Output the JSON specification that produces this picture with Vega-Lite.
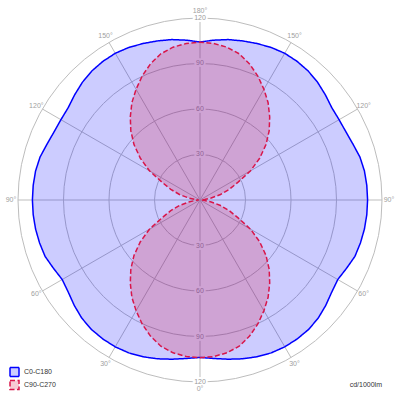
{
  "$schema": "https://vega.github.io/schema/vega-lite/v6.json",
  "width": 400,
  "height": 400,
  "autosize": {"type": "none"},
  "padding": 0,
  "background": "white",
  "config": {"view": {"stroke": null}, "font": "Liberation Sans"},
  "title": {"text": "cd/1000lm", "orient": "bottom", "anchor": "end", "frame": "group", "offset": 0, "dy": -19, "dx": -18, "fontSize": 7, "fontWeight": "normal", "color": "#333333"},
  "datasets": {
    "curves": [
      {"s":"C0-C180","a":0,"v":103.8},{"s":"C0-C180","a":5,"v":104.9},{"s":"C0-C180","a":10,"v":106.6},{"s":"C0-C180","a":15,"v":108.4},{"s":"C0-C180","a":20,"v":110},{"s":"C0-C180","a":25,"v":111.2},{"s":"C0-C180","a":30,"v":111.8},{"s":"C0-C180","a":35,"v":111.8},{"s":"C0-C180","a":40,"v":111.4},{"s":"C0-C180","a":45,"v":110.2},{"s":"C0-C180","a":50,"v":108.2},{"s":"C0-C180","a":55,"v":106},{"s":"C0-C180","a":60,"v":104.9},{"s":"C0-C180","a":65,"v":106.6},{"s":"C0-C180","a":70,"v":108.7},{"s":"C0-C180","a":75,"v":109.5},{"s":"C0-C180","a":80,"v":110.1},{"s":"C0-C180","a":85,"v":110.4},{"s":"C0-C180","a":90,"v":110.5},
      {"s":"C0-C180","a":95,"v":110.4},{"s":"C0-C180","a":100,"v":110.1},{"s":"C0-C180","a":105,"v":109.2},{"s":"C0-C180","a":110,"v":107.4},{"s":"C0-C180","a":115,"v":106.2},{"s":"C0-C180","a":120,"v":105.9},{"s":"C0-C180","a":125,"v":106.1},{"s":"C0-C180","a":130,"v":107.9},{"s":"C0-C180","a":135,"v":109.7},{"s":"C0-C180","a":140,"v":111},{"s":"C0-C180","a":145,"v":111.6},{"s":"C0-C180","a":150,"v":111.7},{"s":"C0-C180","a":155,"v":111},{"s":"C0-C180","a":160,"v":109.8},{"s":"C0-C180","a":165,"v":108.6},{"s":"C0-C180","a":170,"v":107.4},{"s":"C0-C180","a":175,"v":105.8},{"s":"C0-C180","a":180,"v":104.2},
      {"s":"C0-C180","a":185,"v":105.8},{"s":"C0-C180","a":190,"v":107.4},{"s":"C0-C180","a":195,"v":108.6},{"s":"C0-C180","a":200,"v":109.8},{"s":"C0-C180","a":205,"v":111},{"s":"C0-C180","a":210,"v":111.7},{"s":"C0-C180","a":215,"v":111.6},{"s":"C0-C180","a":220,"v":111},{"s":"C0-C180","a":225,"v":109.7},{"s":"C0-C180","a":230,"v":107.9},{"s":"C0-C180","a":235,"v":106.1},{"s":"C0-C180","a":240,"v":105.9},{"s":"C0-C180","a":245,"v":106.2},{"s":"C0-C180","a":250,"v":107.4},{"s":"C0-C180","a":255,"v":109.2},{"s":"C0-C180","a":260,"v":110.1},{"s":"C0-C180","a":265,"v":110.4},{"s":"C0-C180","a":270,"v":110.5},
      {"s":"C0-C180","a":275,"v":110.4},{"s":"C0-C180","a":280,"v":110.1},{"s":"C0-C180","a":285,"v":109.5},{"s":"C0-C180","a":290,"v":108.7},{"s":"C0-C180","a":295,"v":106.6},{"s":"C0-C180","a":300,"v":104.9},{"s":"C0-C180","a":305,"v":106},{"s":"C0-C180","a":310,"v":108.2},{"s":"C0-C180","a":315,"v":110.2},{"s":"C0-C180","a":320,"v":111.4},{"s":"C0-C180","a":325,"v":111.8},{"s":"C0-C180","a":330,"v":111.8},{"s":"C0-C180","a":335,"v":111.2},{"s":"C0-C180","a":340,"v":110},{"s":"C0-C180","a":345,"v":108.4},{"s":"C0-C180","a":350,"v":106.6},{"s":"C0-C180","a":355,"v":104.9},{"s":"C0-C180","a":360,"v":103.8},
      {"s":"C90-C270","a":0,"v":104},{"s":"C90-C270","a":5,"v":103.6},{"s":"C90-C270","a":10,"v":102.3},{"s":"C90-C270","a":15,"v":99.8},{"s":"C90-C270","a":20,"v":95.5},{"s":"C90-C270","a":25,"v":90.2},{"s":"C90-C270","a":30,"v":84.3},{"s":"C90-C270","a":35,"v":78.3},{"s":"C90-C270","a":40,"v":71.5},{"s":"C90-C270","a":45,"v":64.5},{"s":"C90-C270","a":50,"v":56.8},{"s":"C90-C270","a":55,"v":48},{"s":"C90-C270","a":60,"v":38.5},{"s":"C90-C270","a":65,"v":27.5},{"s":"C90-C270","a":70,"v":20.5},{"s":"C90-C270","a":75,"v":14},{"s":"C90-C270","a":80,"v":7.5},{"s":"C90-C270","a":85,"v":3},{"s":"C90-C270","a":90,"v":0.8},
      {"s":"C90-C270","a":95,"v":3},{"s":"C90-C270","a":100,"v":7.5},{"s":"C90-C270","a":105,"v":14},{"s":"C90-C270","a":110,"v":20.5},{"s":"C90-C270","a":115,"v":27.5},{"s":"C90-C270","a":120,"v":38.5},{"s":"C90-C270","a":125,"v":48},{"s":"C90-C270","a":130,"v":56.8},{"s":"C90-C270","a":135,"v":64.5},{"s":"C90-C270","a":140,"v":71.5},{"s":"C90-C270","a":145,"v":78.3},{"s":"C90-C270","a":150,"v":84.3},{"s":"C90-C270","a":155,"v":90.2},{"s":"C90-C270","a":160,"v":95.5},{"s":"C90-C270","a":165,"v":99.8},{"s":"C90-C270","a":170,"v":102.3},{"s":"C90-C270","a":175,"v":103.6},{"s":"C90-C270","a":180,"v":104},
      {"s":"C90-C270","a":185,"v":103.6},{"s":"C90-C270","a":190,"v":102.3},{"s":"C90-C270","a":195,"v":99.8},{"s":"C90-C270","a":200,"v":95.5},{"s":"C90-C270","a":205,"v":90.2},{"s":"C90-C270","a":210,"v":84.3},{"s":"C90-C270","a":215,"v":78.3},{"s":"C90-C270","a":220,"v":71.5},{"s":"C90-C270","a":225,"v":64.5},{"s":"C90-C270","a":230,"v":56.8},{"s":"C90-C270","a":235,"v":48},{"s":"C90-C270","a":240,"v":38.5},{"s":"C90-C270","a":245,"v":27.5},{"s":"C90-C270","a":250,"v":20.5},{"s":"C90-C270","a":255,"v":14},{"s":"C90-C270","a":260,"v":7.5},{"s":"C90-C270","a":265,"v":3},{"s":"C90-C270","a":270,"v":0.8},
      {"s":"C90-C270","a":275,"v":3},{"s":"C90-C270","a":280,"v":7.5},{"s":"C90-C270","a":285,"v":14},{"s":"C90-C270","a":290,"v":20.5},{"s":"C90-C270","a":295,"v":27.5},{"s":"C90-C270","a":300,"v":38.5},{"s":"C90-C270","a":305,"v":48},{"s":"C90-C270","a":310,"v":56.8},{"s":"C90-C270","a":315,"v":64.5},{"s":"C90-C270","a":320,"v":71.5},{"s":"C90-C270","a":325,"v":78.3},{"s":"C90-C270","a":330,"v":84.3},{"s":"C90-C270","a":335,"v":90.2},{"s":"C90-C270","a":340,"v":95.5},{"s":"C90-C270","a":345,"v":99.8},{"s":"C90-C270","a":350,"v":102.3},{"s":"C90-C270","a":355,"v":103.6},{"s":"C90-C270","a":360,"v":104}
    ]
  },
  "layer": [
    {
      "data": {"values": [{"r": 30}, {"r": 60}, {"r": 90}, {"r": 120}]},
      "mark": {"type": "point", "shape": "circle", "filled": false, "stroke": "#bdbdbd", "strokeWidth": 1, "opacity": 1},
      "encoding": {
        "x": {"datum": 0, "type": "quantitative", "scale": {"domain": [-131.868, 131.868], "nice": false, "zero": false}, "axis": null},
        "y": {"datum": 0, "type": "quantitative", "scale": {"domain": [-131.868, 131.868], "nice": false, "zero": false}, "axis": null},
        "size": {"field": "r", "type": "quantitative", "scale": {"type": "pow", "exponent": 2, "domain": [0, 120], "range": [0, 132496], "zero": true}, "legend": null}
      }
    },
    {
      "data": {"values": [{"a": 0}, {"a": 30}, {"a": 60}, {"a": 90}, {"a": 120}, {"a": 150}]},
      "transform": [
        {"calculate": "120*sin(datum.a*PI/180)", "as": "x"},
        {"calculate": "-120*cos(datum.a*PI/180)", "as": "y"},
        {"calculate": "-datum.x", "as": "x2"},
        {"calculate": "-datum.y", "as": "y2"}
      ],
      "mark": {"type": "rule", "stroke": "#bdbdbd", "strokeWidth": 1},
      "encoding": {
        "x": {"field": "x", "type": "quantitative"},
        "y": {"field": "y", "type": "quantitative"},
        "x2": {"field": "x2"},
        "y2": {"field": "y2"}
      }
    },
    {
      "data": {"values": [{"t": "30", "y": 30}, {"t": "60", "y": 60}, {"t": "90", "y": 90}, {"t": "120", "y": 120}, {"t": "30", "y": -30}, {"t": "60", "y": -60}, {"t": "90", "y": -90}, {"t": "120", "y": -120}]},
      "mark": {"type": "text", "fontSize": 7, "baseline": "middle", "align": "center", "stroke": "white", "strokeWidth": 4, "fill": "white"},
      "encoding": {
        "x": {"datum": 0, "type": "quantitative"},
        "y": {"field": "y", "type": "quantitative"},
        "text": {"field": "t"}
      }
    },
    {
      "data": {"values": [{"t": "30", "y": 30}, {"t": "60", "y": 60}, {"t": "90", "y": 90}, {"t": "120", "y": 120}, {"t": "30", "y": -30}, {"t": "60", "y": -60}, {"t": "90", "y": -90}, {"t": "120", "y": -120}]},
      "mark": {"type": "text", "fontSize": 7, "baseline": "middle", "align": "center", "fill": "#9a9a9a"},
      "encoding": {
        "x": {"datum": 0, "type": "quantitative"},
        "y": {"field": "y", "type": "quantitative"},
        "text": {"field": "t"}
      }
    },
    {
      "data": {"values": [{"a": 0, "t": "0°"}, {"a": 30, "t": "30°"}, {"a": 60, "t": "60°"}, {"a": 90, "t": "90°"}, {"a": 120, "t": "120°"}, {"a": 150, "t": "150°"}, {"a": 180, "t": "180°"}, {"a": 210, "t": "150°"}, {"a": 240, "t": "120°"}, {"a": 270, "t": "90°"}, {"a": 300, "t": "60°"}, {"a": 330, "t": "30°"}]},
      "transform": [
        {"calculate": "124.6*sin(datum.a*PI/180)", "as": "x"},
        {"calculate": "-124.6*cos(datum.a*PI/180)", "as": "y"}
      ],
      "mark": {"type": "text", "fontSize": 7, "baseline": "middle", "align": "center", "fill": "#a0a0a0"},
      "encoding": {
        "x": {"field": "x", "type": "quantitative"},
        "y": {"field": "y", "type": "quantitative"},
        "text": {"field": "t"}
      }
    },
    {
      "data": {"name": "curves"},
      "transform": [
        {"calculate": "datum.v*sin(datum.a*PI/180)", "as": "x"},
        {"calculate": "-datum.v*cos(datum.a*PI/180)", "as": "y"}
      ],
      "mark": {"type": "line", "strokeWidth": 1.5},
      "encoding": {
        "x": {"field": "x", "type": "quantitative"},
        "y": {"field": "y", "type": "quantitative"},
        "order": {"field": "a", "type": "quantitative"},
        "stroke": {"field": "s", "type": "nominal", "scale": {"domain": ["C0-C180", "C90-C270"], "range": ["#0000ff", "#d8164a"]},
          "legend": {"orient": "none", "legendX": 9, "legendY": 365.5, "title": null, "symbolType": "square", "symbolSize": 81, "symbolStrokeWidth": 1.5, "labelFontSize": 7, "labelColor": "#333333", "rowPadding": 0, "clipHeight": 13, "padding": 0, "labelOffset": 4}},
        "fill": {"field": "s", "type": "nominal", "scale": {"domain": ["C0-C180", "C90-C270"], "range": ["rgba(0,0,255,0.2)", "rgba(220,20,60,0.22)"]},
          "legend": {"orient": "none", "legendX": 9, "legendY": 365.5, "title": null, "symbolType": "square", "symbolSize": 81, "symbolStrokeWidth": 1.5, "labelFontSize": 7, "labelColor": "#333333", "rowPadding": 0, "clipHeight": 13, "padding": 0, "labelOffset": 4}},
        "strokeDash": {"field": "s", "type": "nominal", "scale": {"domain": ["C0-C180", "C90-C270"], "range": [[1, 0], [5, 2.5]]},
          "legend": {"orient": "none", "legendX": 9, "legendY": 365.5, "title": null, "symbolType": "square", "symbolSize": 81, "symbolStrokeWidth": 1.5, "labelFontSize": 7, "labelColor": "#333333", "rowPadding": 0, "clipHeight": 13, "padding": 0, "labelOffset": 4}}
      }
    }
  ]
}
